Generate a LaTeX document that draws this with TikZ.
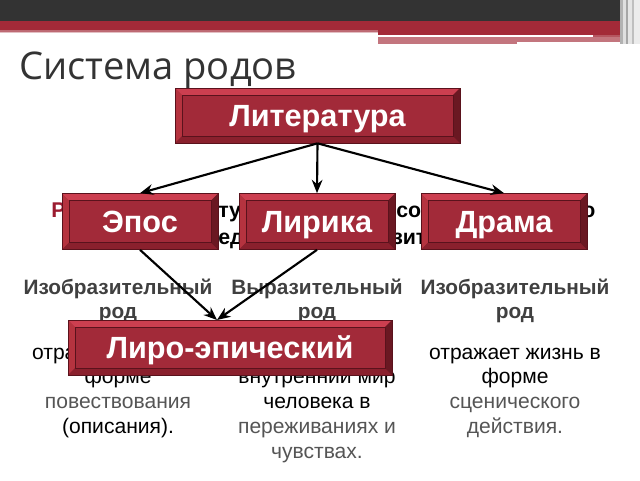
\documentclass[tikz,border=0pt]{standalone}
\usepackage{fontspec}
\setmainfont{Liberation Sans}
\newfontfamily\titlefont{Open Sans}
\usetikzlibrary{calc,arrows.meta}
\definecolor{darkbar}{HTML}{333333}
\definecolor{redbar}{HTML}{A32A38}
\definecolor{face}{HTML}{A22A39}
\definecolor{bevtop}{HTML}{CC3F50}
\definecolor{bevleft}{HTML}{B5333F}
\definecolor{bevbot}{HTML}{8A202D}
\definecolor{bevright}{HTML}{6A1822}
\definecolor{edge}{HTML}{5A121C}
\definecolor{headgray}{HTML}{404040}
\definecolor{bodygray}{HTML}{555555}
\definecolor{hidred}{HTML}{9B1B30}
\tikzset{
  bevbox/.style={rectangle, fill=face, draw=edge, line width=0.5pt, text=white,
    font=\bfseries\fontsize{23}{25}\selectfont, inner sep=0pt,
    text height=16.5pt, text depth=0pt,
    path picture={
      \coordinate (nw) at (path picture bounding box.north west);
      \coordinate (ne) at (path picture bounding box.north east);
      \coordinate (sw) at (path picture bounding box.south west);
      \coordinate (se) at (path picture bounding box.south east);
      \fill[bevtop] (nw) -- (ne) -- ($(ne)+(-7,7)$) -- ($(nw)+(7,7)$) -- cycle;
      \fill[bevleft] (nw) -- (sw) -- ($(sw)+(7,-7)$) -- ($(nw)+(7,7)$) -- cycle;
      \fill[bevbot] (sw) -- (se) -- ($(se)+(-7,-7)$) -- ($(sw)+(7,-7)$) -- cycle;
      \fill[bevright] (ne) -- (se) -- ($(se)+(-7,-7)$) -- ($(ne)+(-7,7)$) -- cycle;
      \draw[edge, line width=0.4pt] ($(nw)+(7,7)$) rectangle ($(se)+(-7,-7)$);
    }},
  head/.style={anchor=base, text=headgray, font=\bfseries\fontsize{15.6}{17}\selectfont, inner sep=0pt},
  body/.style={anchor=base, font=\fontsize{15.8}{17}\selectfont, inner sep=0pt},
  hid/.style={anchor=base west, font=\bfseries\fontsize{16}{18}\selectfont, inner sep=0pt},
  arr/.style={line width=1.6pt, -{Stealth[length=10pt,width=8pt]}}
}
\begin{document}
\begin{tikzpicture}[x=0.75pt,y=-0.75pt]
\useasboundingbox (0,0) rectangle (640,480);
% header
\fill[darkbar] (0,0) rectangle (640,21);
\fill[redbar] (0,21) rectangle (640,30);
\fill[redbar!70!white] (0,30) rectangle (378,31.5);
\fill[redbar!30!white] (0,31.5) rectangle (378,33);
\fill[redbar] (378,30) rectangle (628,34.5);
\fill[white] (378,34.5) rectangle (593,36);
\fill[redbar!80!white] (593,34.5) rectangle (628,37);
\fill[redbar!65!white] (378,37) rectangle (628,44);
\fill[white] (517,42) rectangle (628,43.5);
\fill[gray!60] (620,0) rectangle (623,44);
\fill[gray!25] (623,0) rectangle (626,44);
\fill[gray!70] (626,0) rectangle (628,44);
\fill[gray!20] (628,0) rectangle (632,44);
\fill[gray!50] (632,0) rectangle (634,44);
\fill[gray!15] (634,0) rectangle (640,44);
% title
\node[anchor=base west, inner sep=0pt, text=darkbar, font=\titlefont\fontsize{28.6}{32}\selectfont] (title) at (19,79) {Система родов};
% hidden definition fragments
\node[hid, text=hidred] (h1) at (51,217) {Р};
\node[hid] (h2) at (218,217) {тур};
\node[hid] (h3) at (396,217) {сов};
\node[hid] (h4) at (582,217) {о};
\node[hid] (h5) at (218,244) {ед};
\node[hid] (h6) at (392,244) {зит};
% column headings
\node[head] (c1h1) at (118,294) {Изобразительный};
\node[head] (c1h2) at (118,318) {род};
\node[head] (c2h1) at (317,294) {Выразительный};
\node[head] (c2h2) at (317,318) {род};
\node[head] (c3h1) at (515,294) {Изобразительный};
\node[head] (c3h2) at (515,318) {род};
% column bodies
\node[body] (c1b1) at (118,359) {отражает жизнь в};
\node[body] (c1b2) at (118,383) {форме};
\node[body, text=bodygray] (c1b3) at (118,408) {повествования};
\node[body] (c1b4) at (118,433) {(описания).};
\node[body] (c2b2) at (317,383) {внутренний мир};
\node[body] (c2b3) at (317,408) {человека в};
\node[body, text=bodygray] (c2b4) at (317,433) {переживаниях и};
\node[body, text=bodygray] (c2b5) at (317,458) {чувствах.};
\node[body] (c3b1) at (515,359) {отражает жизнь в};
\node[body] (c3b2) at (515,383) {форме};
\node[body, text=bodygray] (c3b3) at (515,408) {сценического};
\node[body, text=bodygray] (c3b4) at (515,433) {действия.};
% boxes
\node[bevbox, minimum width=213.75pt, minimum height=41.25pt] (lit) at (317.5,115.5) {Литература};
\node[bevbox, minimum width=117pt, minimum height=42pt] (epos) at (140,221.5) {Эпос};
\node[bevbox, minimum width=117pt, minimum height=42pt] (lyr) at (317,221.5) {Лирика};
\node[bevbox, minimum width=124.5pt, minimum height=42pt] (drama) at (504,221.5) {Драма};
\node[bevbox, minimum width=243pt, minimum height=41.25pt] (lyroepic) at (230,347.5) {Лиро-эпический};
\coordinate (meet) at (217,320);
% arrows
\draw[arr] (lit.south) -- (epos.north);
\draw[arr] (lit.south) -- (lyr.north);
\draw[arr] (lit.south) -- (drama.north);
\draw[arr] (epos.south) -- (meet);
\draw[arr] (lyr.south) -- (meet);
\end{tikzpicture}
\end{document}
